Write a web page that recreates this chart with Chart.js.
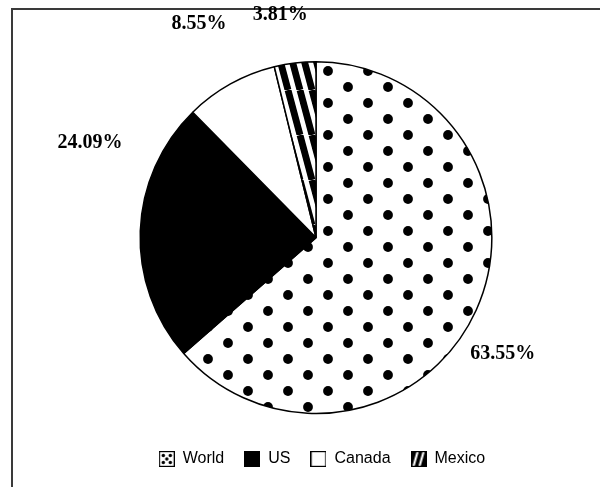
<!DOCTYPE html>
<html><head><meta charset="utf-8">
<script src="https://cdn.jsdelivr.net/npm/chart.js@4/dist/chart.umd.min.js"></script>
<style>html,body{margin:0;padding:0;background:#fff;}#wrap{width:600px;height:487px;}</style>
</head><body><div id="wrap"><canvas id="c" width="600" height="487"></canvas></div>
<script>
const categories = ['World', 'US', 'Canada', 'Mexico'];
const shares = [63.55, 24.09, 8.55, 3.81];
const shareLabels = ['63.55%', '24.09%', '8.55%', '3.81%'];

function makeCanvas(w, h) { const c = document.createElement('canvas'); c.width = w; c.height = h; return c; }

function dotPattern(ctx) {
  const c = makeCanvas(40, 32), g = c.getContext('2d');
  g.fillStyle = '#fff'; g.fillRect(0, 0, 40, 32);
  g.fillStyle = '#000';
  [[8, 7], [28, 23]].forEach(([x, y]) => { g.beginPath(); g.arc(x, y, 4.9, 0, Math.PI * 2); g.fill(); });
  return ctx.createPattern(c, 'repeat');
}
function stripePattern(ctx) {
  const W = 12, H = 45;
  const c = makeCanvas(W, H), g = c.getContext('2d');
  g.fillStyle = '#fff'; g.fillRect(0, 0, W, H);
  g.strokeStyle = '#000'; g.lineWidth = 6.8;
  for (let k = -1; k <= 1; k++) { g.beginPath(); g.moveTo(k * W, 0); g.lineTo(k * W + W, H); g.stroke(); }
  return ctx.createPattern(c, 'repeat');
}
function icon(kind) {
  const s = 16, c = makeCanvas(s, s), g = c.getContext('2d');
  g.fillStyle = kind === 'US' ? '#000' : '#fff';
  g.fillRect(0, 0, s, s);
  if (kind === 'World') {
    g.fillStyle = '#000';
    [[4.5, 4.5], [11.5, 4.5], [8, 8], [4.5, 11.5], [11.5, 11.5]].forEach(([x, y]) => { g.beginPath(); g.arc(x, y, 1.7, 0, Math.PI * 2); g.fill(); });
  }
  if (kind === 'Mexico') {
    g.fillStyle = '#000'; g.fillRect(0, 0, s, s);
    g.strokeStyle = '#fff'; g.lineWidth = 2.2;
    [[3, 15, 7, 1], [9, 15, 13, 1]].forEach(([a, b, c2, d]) => { g.beginPath(); g.moveTo(a, b); g.lineTo(c2, d); g.stroke(); });
  }
  g.strokeStyle = '#000'; g.lineWidth = 1.2; g.strokeRect(0.6, 0.6, s - 1.2, s - 1.2);
  return c;
}

const frame = {
  id: 'frame',
  beforeDraw(chart) {
    const ctx = chart.ctx;
    ctx.save();
    ctx.fillStyle = '#fff'; ctx.fillRect(0, 0, chart.width, chart.height);
    ctx.strokeStyle = '#3a3a3a'; ctx.lineWidth = 2;
    ctx.beginPath(); ctx.moveTo(12, chart.height); ctx.lineTo(12, 9); ctx.lineTo(chart.width, 9); ctx.stroke();
    ctx.restore();
  }
};
const legendShift = {
  id: 'legendShift',
  afterLayout(chart, args, opts) {
    if (chart.legend) { chart.legend.left += opts.dx; chart.legend.right += opts.dx; }
  }
};
const outsideLabels = {
  id: 'outsideLabels',
  afterDatasetsDraw(chart, args, opts) {
    const meta = chart.getDatasetMeta(0), ctx = chart.ctx;
    ctx.save();
    ctx.font = opts.font; ctx.fillStyle = '#000'; ctx.textAlign = 'center'; ctx.textBaseline = 'middle';
    meta.data.forEach((arc, i) => {
      const p = opts.placement[i];
      const a = (arc.startAngle + arc.endAngle) / 2 + p.dAngle * Math.PI / 180;
      const r = arc.outerRadius * p.rFactor;
      ctx.fillText(shareLabels[i], arc.x + r * Math.cos(a), arc.y + r * Math.sin(a) + opts.dy);
    });
    ctx.restore();
  }
};

const cv = document.getElementById('c');
const ctx = cv.getContext('2d');
const fills = [dotPattern(ctx), '#000', '#fff', stripePattern(ctx)];
const icons = categories.map(icon);

new Chart(cv, {
  type: 'pie',
  data: { labels: categories, datasets: [{ data: shares, backgroundColor: fills, borderColor: '#000', borderWidth: 1.5 }] },
  options: {
    responsive: false, animation: false,
    layout: { padding: { left: 32, right: 0, top: 61, bottom: 10 } },
    plugins: {
      tooltip: { enabled: false },
      legend: {
        position: 'bottom',
        title: { display: true, text: '', font: { size: 14 }, padding: 0 },
        labels: {
          usePointStyle: true, pointStyleWidth: 16, boxHeight: 16, padding: 20,
          color: '#000', font: { family: '"Liberation Sans", Arial, sans-serif', size: 16 },
          generateLabels: () => categories.map((t, i) => ({ text: t, pointStyle: icons[i], fillStyle: '#fff', strokeStyle: '#000', lineWidth: 0, hidden: false, index: i, fontColor: '#000' }))
        }
      },
      legendShift: { dx: 6 },
      outsideLabels: {
        font: 'bold 20px "Liberation Serif", "Times New Roman", serif',
        dy: 2,
        placement: [ { dAngle: 7, rFactor: 1.244 }, { dAngle: 21, rFactor: 1.398 }, { dAngle: 0.7, rFactor: 1.398 }, { dAngle: -2.2, rFactor: 1.295 } ]
      }
    }
  },
  plugins: [frame, legendShift, outsideLabels]
});
</script></body></html>
